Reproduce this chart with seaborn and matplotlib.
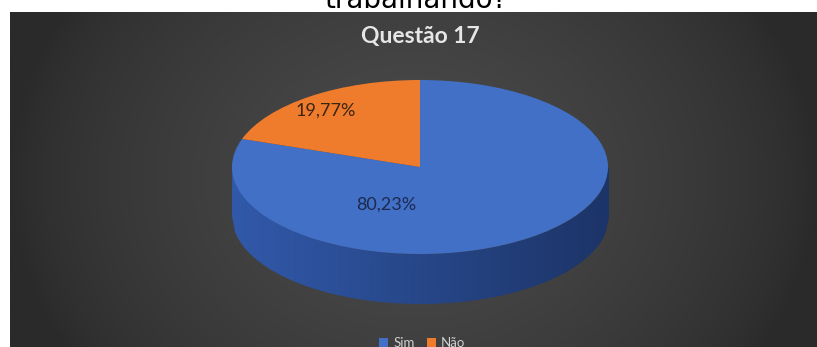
import numpy as np
import matplotlib
matplotlib.use("Agg")
import matplotlib.pyplot as plt
import seaborn as sns
from matplotlib.colors import to_rgb
from matplotlib.patches import Patch

# ---- data ----
categories = ["Sim", "Não"]
values = [80.23, 19.77]
value_labels = ["80,23%", "19,77%"]
title = "Questão 17"
question_tail = "trabalhando?"

sns.set_theme(style="white")
plt.rcParams['font.family'] = ['Lato', 'DejaVu Sans']

W, H = 817, 347
fig = plt.figure(figsize=(W / 100, H / 100), dpi=100, facecolor="white")

def px_axes(x0, y0, w, h):
    return fig.add_axes([x0 / W, 1 - (y0 + h) / H, w / W, h / H])

# ---- dark background panel with gradient ----
bg = px_axes(10, 12, 807, 335)
xx = np.linspace(-1, 1, 400)
yy = np.linspace(-1, 1, 200)
X, Y = np.meshgrid(xx, yy)
r = np.sqrt(X ** 2 + (0.5 * Y) ** 2)
grad = np.clip(1 - r, 0, 1)
c_edge = np.array(to_rgb("#2a2a2a"))
c_mid = np.array(to_rgb("#4d4d4d"))
img = c_edge + (c_mid - c_edge) * grad[..., None] ** 0.7
bg.imshow(img, aspect="auto", extent=[0, 1, 0, 1])
bg.set_axis_off()

# ---- question tail text cut at top ----
fig.text(416 / W, 1 - 8 / H, question_tail, ha="center", va="baseline",
         fontsize=20, color="black", family=["DejaVu Sans"])

# ---- title ----
fig.text(420 / W, 1 - 36 / H, title, ha="center", va="center",
         fontsize=16.5, fontweight="bold", color="#e6e6e6")

# ---- pie (3D-ish) ----
cx, a = 420, 188
top_y, ctr_y, b = 80, 167, 87
depth_px = 49
bottom_y = ctr_y + b + depth_px
ax = px_axes(cx - a, top_y, 2 * a, bottom_y - top_y)
depth = depth_px / b

# side of the cylinder (front half)
n = 120
xs = np.linspace(-1, 1, n + 1)
c_left = np.array(to_rgb("#3159aa"))
c_right = np.array(to_rgb("#1c3468"))
for i in range(n):
    xseg = xs[i:i + 2]
    ytop = -np.sqrt(np.clip(1 - xseg ** 2, 0, 1))
    t = (xseg.mean() + 1) / 2
    col = c_left + (c_right - c_left) * t
    ax.fill_between(xseg, ytop - depth, ytop, color=col, linewidth=0.6, edgecolor=col)

pie_colors = ["#4270c6", "#ef7c2c"]
wedges, _ = ax.pie(values, colors=pie_colors, startangle=90, counterclock=False,
                   radius=1, center=(0, 0), frame=True,
                   wedgeprops=dict(linewidth=0))
ax.set_xlim(-1, 1)
ax.set_ylim(-1 - depth, 1)
ax.set_aspect("auto")
ax.set_axis_off()

# labels (pixel positions converted to data coords)
def to_data(px, py):
    return (px - cx) / a, (ctr_y - py) / b

x0, y0 = to_data(386, 205)
ax.text(x0, y0, value_labels[0], ha="center", va="center",
        fontsize=13, color="#1c2a4e")
x1, y1 = to_data(326, 111)
ax.text(x1, y1, value_labels[1], ha="center", va="center",
        fontsize=13, color="#3a2412")

# legend
handles = [Patch(facecolor=c, edgecolor="none") for c in pie_colors]
fig.legend(handles, categories, loc="center", bbox_to_anchor=(422 / W, 1 - 343 / H),
           ncol=2, frameon=False, fontsize=9.5, labelcolor="#d0d0d0",
           handlelength=0.7, handleheight=0.7, handletextpad=0.4, columnspacing=0.9)

fig.savefig("out.png", dpi=100, facecolor="white")
